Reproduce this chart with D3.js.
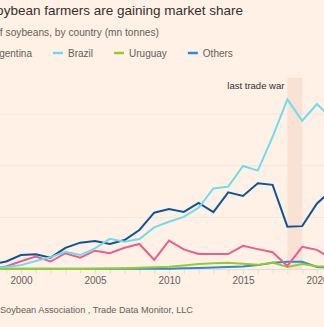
<!DOCTYPE html>
<html><head><meta charset="utf-8">
<script src="https://cdn.jsdelivr.net/npm/d3@7"></script>
<style>
html,body{margin:0;padding:0;background:#fff1e5;}
svg{display:block;font-family:"Liberation Sans",Arial,sans-serif;}
</style></head>
<body><svg id="c" width="324" height="327"></svg>
<script>
const years = [1998,1999,2000,2001,2002,2003,2004,2005,2006,2007,2008,2009,2010,2011,2012,2013,2014,2015,2016,2017,2018,2019,2020,2021];
const us        = [1.8,2.9,5.4,5.7,4.4,8.2,10.2,10.8,9.7,11.2,15.1,21.8,23.2,22.1,25.6,22.0,29.7,28.3,33.2,32.6,16.4,16.6,25.4,30.6];
const argentina = [0.3,1.0,3.0,4.8,2.9,6.1,4.4,7.1,6.1,8.2,9.7,3.5,11.0,7.6,5.8,5.8,5.8,9.0,7.7,6.5,1.2,8.6,7.4,3.9];
const brazil    = [0.4,0.8,1.5,3.1,4.6,6.7,5.4,8.0,11.7,10.6,11.6,16.1,18.3,20.2,23.7,31.2,31.9,39.9,38.1,51.2,65.7,57.4,63.9,58.1];
const uruguay   = [0,0,0,0,0,0,0,0.1,0.2,0.3,0.5,0.7,0.9,1.4,1.9,2.2,2.4,2.0,1.6,2.5,0.8,1.9,1.1,0.9];
const others    = [0.1,0.1,0.1,0.1,0.1,0.1,0.1,0.1,0.1,0.1,0.2,0.1,0.1,0.3,0.4,0.6,0.8,1.0,1.5,2.4,2.8,2.8,0.8,0.5];
const seriesNames = ["US","Argentina","Brazil","Uruguay","Others"];
const seriesColors = ["#0f5499","#eb5e8d","#70dbed","#96cc28","#2a8ad6"];
const xTickLabels = [2000,2005,2010,2015,2020];
const yGrid = [0,20,40,60];
const tradeWar = [2018,2019];
const titleText = "Brazil\u2019s soybean farmers are gaining market share";
const subtitleText = "China\u2019s imports of soybeans, by country (mn tonnes)";
const sourceText = "Sources: American Soybean Association , Trade Data Monitor, LLC";

const svg = d3.select("#c");
const x = d3.scaleLinear().domain([2000,2020]).range([21,317]);
const y = d3.scaleLinear().domain([0,74]).range([269,77.9]);

svg.append("rect").attr("width",324).attr("height",327).attr("fill","#fff1e5");

// gridlines
svg.append("g").selectAll("line").data(yGrid.filter(d=>d>0)).join("line")
  .attr("x1",-50).attr("x2",400).attr("y1",d=>y(d)).attr("y2",d=>y(d))
  .attr("stroke","#f3e6da").attr("stroke-width",1);

// trade war band
svg.append("rect").attr("x",x(tradeWar[0])).attr("width",x(tradeWar[1])-x(tradeWar[0]))
  .attr("y",y.range()[1]).attr("height",y.range()[0]-y.range()[1]).attr("fill","#f9e2d3");
svg.append("text").attr("x",x(tradeWar[0])-3).attr("y",89).attr("text-anchor","end")
  .attr("font-size",9.5).attr("fill","#33302e").text("last trade war");

// x axis
const ax = svg.append("g").attr("transform",`translate(0,${y(0)})`)
  .call(d3.axisBottom(x).tickValues(d3.range(1996,2023)).tickSize(5).tickFormat(d=>xTickLabels.includes(d)?d:""));
ax.select(".domain").remove();
ax.selectAll(".tick line").attr("stroke","#e8dbcf");
ax.selectAll(".tick text").attr("font-size",10).attr("fill","#66605c").attr("dy","0.71em")
  .attr("font-family","Liberation Sans, Arial, sans-serif");
svg.append("line").attr("x1",-50).attr("x2",400).attr("y1",y(0)+0.5).attr("y2",y(0)+0.5).attr("stroke","#e8dbcf");

// lines
const seriesData = [us,argentina,brazil,uruguay,others];
const line = d3.line().x((d,i)=>x(years[i])).y(d=>y(d));
const drawOrder = [4,3,1,0,2];
svg.append("g").selectAll("path").data(drawOrder).join("path")
  .attr("d",i=>line(seriesData[i])).attr("fill","none")
  .attr("stroke",i=>seriesColors[i]).attr("stroke-width",2).attr("stroke-linejoin","miter");

// title etc
svg.append("text").attr("x",243).attr("y",15).attr("text-anchor","end").attr("font-size",13.5)
  .attr("fill","#33302e").text(titleText);
svg.append("text").attr("x",159).attr("y",36).attr("text-anchor","end").attr("font-size",10.2)
  .attr("fill","#66605c").text(subtitleText);
svg.append("text").attr("x",193).attr("y",313).attr("text-anchor","end").attr("font-size",9.2)
  .attr("fill","#66605c").text(sourceText);

// legend: anchored at Brazil swatch x=53
const lg = svg.append("g").attr("transform","translate(0,53)");
const items = lg.selectAll("g").data(seriesNames).join("g");
items.append("line").attr("x1",0).attr("x2",10).attr("y1",0).attr("y2",0)
  .attr("stroke",(d,i)=>seriesColors[i]).attr("stroke-width",2.5);
items.append("text").attr("x",15).attr("y",3.5).attr("font-size",10).attr("fill","#66605c").text(d=>d);
const widths = [];
items.each(function(){ widths.push(15 + d3.select(this).select("text").node().getComputedTextLength()); });
const gap = 21;
const pos = new Array(seriesNames.length);
const anchor = 2; pos[anchor] = 53;
for (let i=anchor+1;i<seriesNames.length;i++) pos[i] = pos[i-1]+widths[i-1]+gap;
for (let i=anchor-1;i>=0;i--) pos[i] = pos[i+1]-gap-widths[i];
items.attr("transform",(d,i)=>`translate(${pos[i]},0)`);
</script></body></html>
